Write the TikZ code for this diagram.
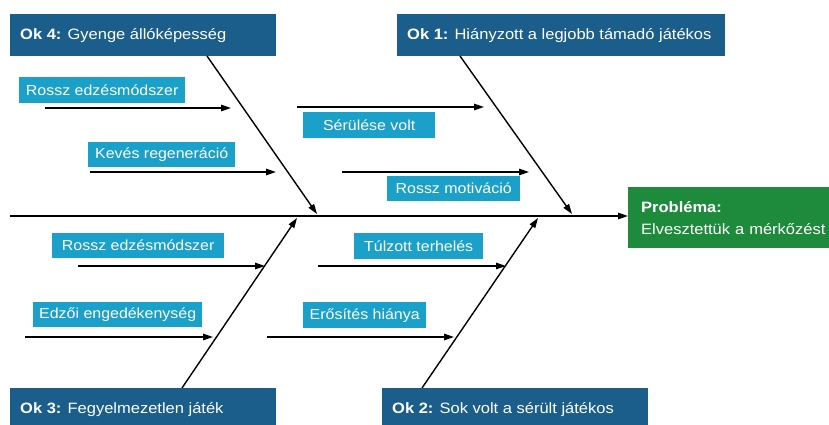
\documentclass[tikz,border=0pt]{standalone}
\usepackage{fontspec}
\setmainfont[FakeStretch=1.1]{Liberation Sans}
\usetikzlibrary{arrows.meta}

\definecolor{causeblue}{RGB}{27,94,140}
\definecolor{subblue}{RGB}{27,160,201}
\definecolor{effectgreen}{RGB}{30,139,60}

\begin{document}
\begin{tikzpicture}[x=1pt,y=-1pt,
  titlebox/.style={fill=causeblue, text=white, anchor=north west,
    inner xsep=10pt, inner ysep=0pt, minimum height=42pt,
    font=\fontsize{15}{18}\selectfont},
  subbox/.style={fill=subblue, text=white, anchor=north west,
    inner sep=0pt, font=\fontsize{14.5}{17}\selectfont},
  effectbox/.style={fill=effectgreen, text=white, anchor=north west,
    inner xsep=13pt, inner ysep=0pt, minimum height=61pt, align=left,
    font=\fontsize{15}{22}\selectfont},
  bone/.style={line width=1.4pt, -{Triangle[length=10pt,width=6.5pt]}},
  twig/.style={line width=1.4pt, -{Triangle[length=10pt,width=6.5pt]}}]

\useasboundingbox (0,0) rectangle (829,425);
\clip (0,0) rectangle (829,425);

% effect
\node[effectbox, text width=190pt] (effect) at (628,187)
  {\textbf{Probléma:}\\Elvesztettük a mérkőzést};

% main causes (box width = text slot + 2 x 10pt)
\node[titlebox] (ok4) at (10,14)
  {\makebox[246pt][l]{\textbf{Ok 4:} Gyenge állóképesség}};
\node[titlebox] (ok1) at (397,14)
  {\makebox[308pt][l]{\textbf{Ok 1:} Hiányzott a legjobb támadó játékos}};
\node[titlebox] (ok3) at (10,388)
  {\makebox[246pt][l]{\textbf{Ok 3:} Fegyelmezetlen játék}};
\node[titlebox] (ok2) at (382,388)
  {\makebox[246pt][l]{\textbf{Ok 2:} Sok volt a sérült játékos}};

% sub-causes
\node[subbox, minimum width=166pt, minimum height=26pt] (s41) at (19,77) {Rossz edzésmódszer};
\node[subbox, minimum width=147pt, minimum height=25pt] (s42) at (88,142) {Kevés regeneráció};
\node[subbox, minimum width=132pt, minimum height=26pt] (s11) at (303,112) {Sérülése volt};
\node[subbox, minimum width=133pt, minimum height=25pt] (s12) at (387,176) {Rossz motiváció};
\node[subbox, minimum width=172pt, minimum height=25pt] (s31) at (52,233) {Rossz edzésmódszer};
\node[subbox, minimum width=169pt, minimum height=25pt] (s32) at (33,302) {Edzői engedékenység};
\node[subbox, minimum width=129pt, minimum height=26pt] (s21) at (354,233) {Túlzott terhelés};
\node[subbox, minimum width=123pt, minimum height=26pt] (s22) at (303,302) {Erősítés hiánya};

% spine
\coordinate (tail) at (10,216);
\draw[bone] (tail) -- (effect.west |- tail);

% cause bones
\coordinate (b4s) at (207,56);  \coordinate (b4e) at (317,214);
\coordinate (b1s) at (460,56);  \coordinate (b1e) at (572,214);
\coordinate (b3s) at (182,388); \coordinate (b3e) at (297,218);
\coordinate (b2s) at (422,388); \coordinate (b2e) at (538,218);
\draw[bone] (b4s) -- (b4e);
\draw[bone] (b1s) -- (b1e);
\draw[bone] (b3s) -- (b3e);
\draw[bone] (b2s) -- (b2e);

% sub-cause arrows
\coordinate (a41s) at (45,108);  \coordinate (a41e) at (231,108);
\coordinate (a42s) at (90,172);  \coordinate (a42e) at (276,172);
\coordinate (a11s) at (297,107); \coordinate (a11e) at (484,107);
\coordinate (a12s) at (342,172); \coordinate (a12e) at (529,172);
\coordinate (a31s) at (78,266);  \coordinate (a31e) at (265,266);
\coordinate (a32s) at (25,337);  \coordinate (a32e) at (213,337);
\coordinate (a21s) at (318,266); \coordinate (a21e) at (506,266);
\coordinate (a22s) at (267,337); \coordinate (a22e) at (454,337);
\foreach \a in {41,42,11,12,31,32,21,22}
  \draw[twig] (a\a s) -- (a\a e);
\end{tikzpicture}
\end{document}
